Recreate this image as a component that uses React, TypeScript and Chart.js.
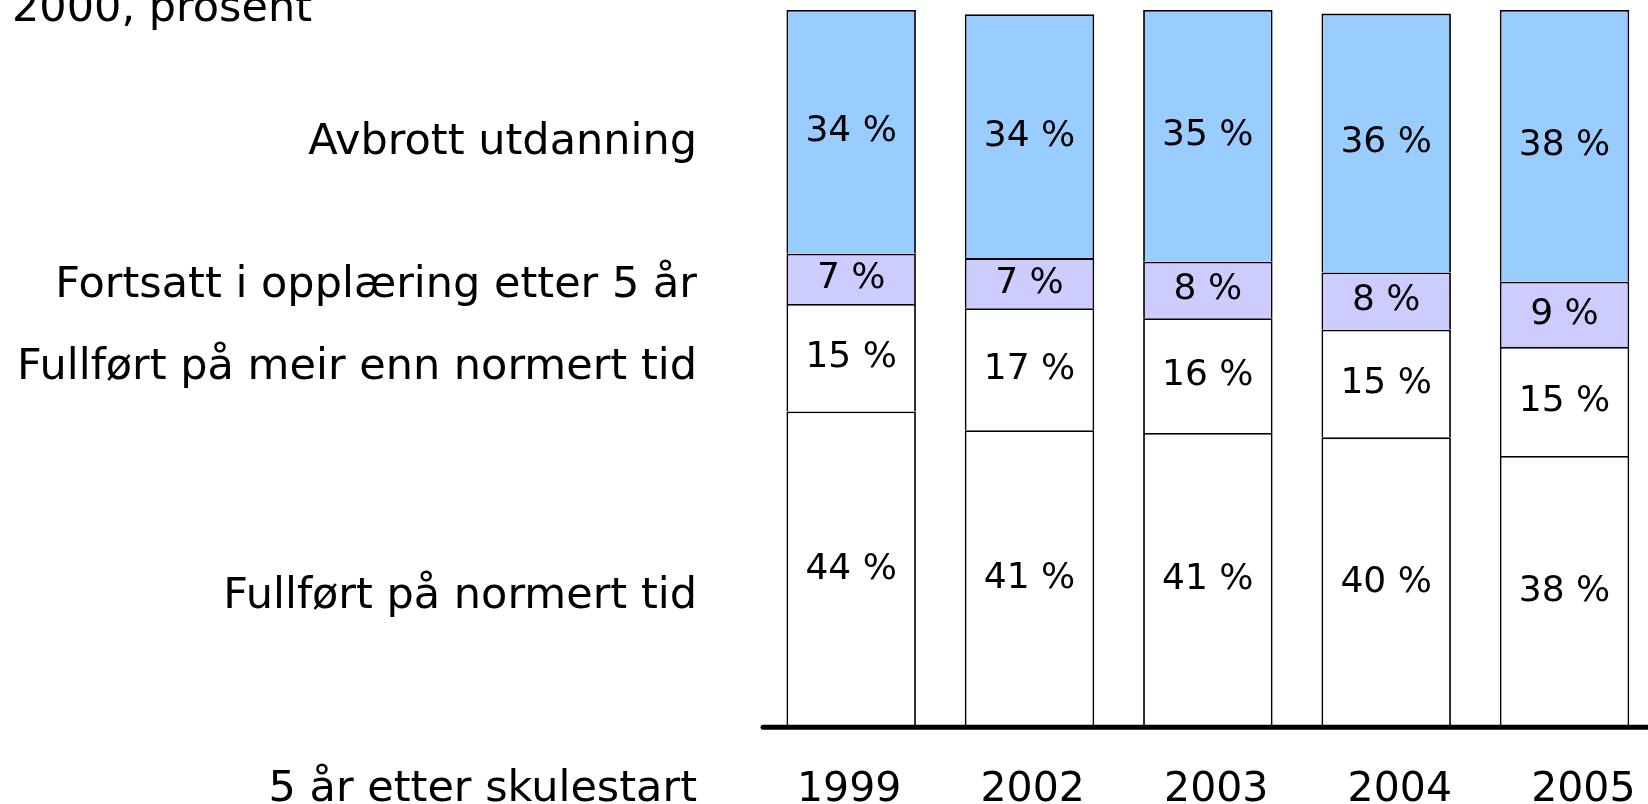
import React, { useEffect, useRef } from "react";
import { Chart, registerables } from "chart.js";

Chart.register(...registerables);

// ---- data ----
const categories = ["1999", "2002", "2003", "2004", "2005"];
const normertTid = [44, 41.4, 41, 40.4, 37.8];
const meirEnnNormert = [15, 17, 16, 15, 15.2];
const fortsatt = [7, 7, 7.9, 8, 9.1];
const avbrott = [34, 34, 35.1, 36.1, 37.9];
const seriesNames = [
  "Fullført på normert tid",
  "Fullført på meir enn normert tid",
  "Fortsatt i opplæring etter 5 år",
  "Avbrott utdanning",
];
const titleText = "2000, prosent";
const axisTitle = "5 år etter skulestart";

// ---- style ----
const FONT = "'DejaVu Sans', Verdana, sans-serif";
const seriesColors = ["#FFFFFF", "#FFFFFF", "#CCCCFF", "#99CCFF"];
const seriesLabelBaselines = [608, 379, 297, 154];
const LABEL_RIGHT = 697;
const BOTTOM_BASELINE = 801;

const annotate = {
  id: "annotate",
  afterDatasetsDraw(chart: any) {
    const { ctx, chartArea } = chart;
    const xs = chart.scales.x;
    const ys = chart.scales.y;
    ctx.save();
    ctx.fillStyle = "#000";

    // value labels
    ctx.font = `36px ${FONT}`;
    ctx.textAlign = "center";
    ctx.textBaseline = "middle";
    chart.data.datasets.forEach((ds: any, di: number) => {
      const meta = chart.getDatasetMeta(di);
      meta.data.forEach((bar: any, i: number) => {
        const p = bar.getProps(["x", "y", "base"], true);
        ctx.fillText(`${Math.round(ds.data[i])} %`, p.x, (p.y + p.base) / 2);
      });
    });

    // baseline axis line
    const y0 = ys.getPixelForValue(0);
    ctx.beginPath();
    ctx.lineWidth = 5;
    ctx.lineCap = "round";
    ctx.strokeStyle = "#000";
    ctx.moveTo(chartArea.left + 1, y0 + 0.3);
    ctx.lineTo(chart.width + 20, y0 + 0.3);
    ctx.stroke();

    // year labels
    ctx.font = `41px ${FONT}`;
    ctx.textBaseline = "alphabetic";
    ctx.textAlign = "center";
    categories.forEach((c, i) => {
      const px = xs.getPixelForValue(i) + (i - 2) * 5.2 + 8.4;
      ctx.fillText(c, px, BOTTOM_BASELINE);
    });

    // left-hand series labels
    ctx.font = `43px ${FONT}`;
    ctx.textAlign = "right";
    seriesNames.forEach((n, i) => {
      ctx.fillText(n, LABEL_RIGHT, seriesLabelBaselines[i]);
    });
    ctx.fillText(axisTitle, LABEL_RIGHT, BOTTOM_BASELINE);

    // partially visible title
    ctx.textAlign = "left";
    ctx.fillText(titleText, 12, 21);
    ctx.restore();
  },
};

export default function App() {
  const ref = useRef<HTMLCanvasElement | null>(null);
  useEffect(() => {
    if (!ref.current) return;
    const values = [normertTid, meirEnnNormert, fortsatt, avbrott];
    const chart = new Chart(ref.current, {
      type: "bar",
      data: {
        labels: categories,
        datasets: values.map((d, i) => ({
          label: seriesNames[i],
          data: d,
          backgroundColor: seriesColors[i],
          borderColor: "#000000",
          borderWidth: 1.8,
          borderSkipped: "start",
          categoryPercentage: 1,
          barPercentage: 0.726,
        })),
      },
      options: {
        responsive: false,
        animation: false,
        devicePixelRatio: 1,
        layout: { padding: { left: 762, right: 6.3, top: 10, bottom: 77 } },
        plugins: { legend: { display: false }, tooltip: { enabled: false }, title: { display: false } },
        scales: {
          x: { stacked: true, display: false },
          y: { stacked: true, display: false, min: 0, max: 100 },
        },
      },
      plugins: [annotate],
    });
    return () => chart.destroy();
  }, []);
  return (
    <div style={{ position: "fixed", left: 0, top: 0, width: 1648, height: 804, overflow: "hidden", background: "#fff" }}>
      <canvas ref={ref} width={1660} height={804} style={{ display: "block" }} />
    </div>
  );
}
